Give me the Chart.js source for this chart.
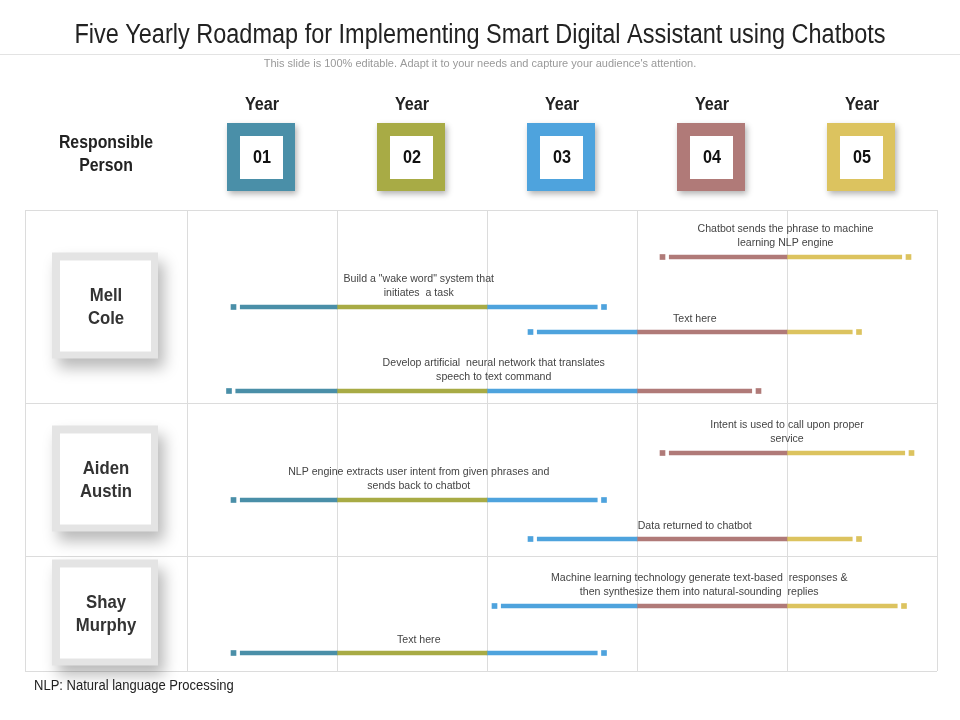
<!DOCTYPE html>
<html><head><meta charset="utf-8">
<script src="https://cdn.jsdelivr.net/npm/chart.js@4.4.0/dist/chart.umd.min.js"></script>
<style>html,body{margin:0;padding:0;background:#fff;overflow:hidden}#wrap{width:960px;height:720px;position:relative}</style>
</head><body><div id="wrap"><canvas id="c"></canvas></div>
<script>
const years = ["01","02","03","04","05"];
const yearColors = ["#4a8fa8","#a8ab45","#4ea3dd","#b07a78","#dcc35f"];
const persons = ["Mell\nCole","Aiden\nAustin","Shay\nMurphy"];
const personRows = [[0,3.86],[3.86,6.92],[6.92,9.22]];
const taskLabels = [
 "Chatbot sends the phrase to machine\nlearning NLP engine",
 "Build a \"wake word\" system that\ninitiates  a task",
 "Text here",
 "Develop artificial  neural network that translates\nspeech to text command",
 "Intent is used to call upon proper\nservice",
 "NLP engine extracts user intent from given phrases and\nsends back to chatbot",
 "Data returned to chatbot",
 "Machine learning technology generate text-based  responses &\nthen synthesize them into natural-sounding  replies",
 "Text here"];
const taskStart = [3.17,0.31,2.29,0.28,3.17,0.31,2.29,2.05,0.31];
const taskEnd   = [4.81,2.78,4.48,3.81,4.83,2.78,4.48,4.78,2.78];
const taskLane  = [0.94,1.94,2.44,3.62,4.86,5.8,6.58,7.92,8.86];

const FONT = "'Liberation Sans',Arial,sans-serif";
const GAP = 0.045;
const datasets = [];
yearColors.forEach((col,k)=>{
  const data=[];
  taskStart.forEach((s,i)=>{
    const a=Math.max(s+GAP,k), b=Math.min(taskEnd[i]-GAP,k+1);
    if(b>a) data.push({x:[a,b],y:taskLane[i]});
  });
  datasets.push({type:'bar',data,backgroundColor:col,barThickness:4,grouped:false});
});
const pts = yearColors.map(()=>[]);
taskStart.forEach((s,i)=>{
  pts[Math.min(4,Math.floor(s))].push({x:s,y:taskLane[i]});
  pts[Math.min(4,Math.floor(taskEnd[i]))].push({x:taskEnd[i],y:taskLane[i]});
});
yearColors.forEach((col,k)=>datasets.push({type:'scatter',data:pts[k],pointStyle:'rect',radius:4,backgroundColor:col,borderWidth:0}));

function nt(ctx,text,x,y,lh,sx){
  text.split("\n").forEach((t,i)=>{ctx.save();ctx.translate(x,y+i*lh);ctx.scale(sx,1);ctx.fillText(t,0,0);ctx.restore();});
}

const deco = {
  id:'deco',
  beforeDatasetsDraw(chart){
    const {ctx,scales:{x,y}}=chart;
    ctx.save();
    ctx.strokeStyle="#dcdcdc";ctx.lineWidth=1;
    [-1.08,0,1,2,3,4,5].forEach(v=>{const px=Math.round(x.getPixelForValue(v))+0.5;ctx.beginPath();ctx.moveTo(px,y.getPixelForValue(0));ctx.lineTo(px,y.getPixelForValue(9.22));ctx.stroke();});
    [0,3.86,6.92,9.22].forEach(v=>{const py=Math.round(y.getPixelForValue(v))+0.5;ctx.beginPath();ctx.moveTo(x.getPixelForValue(-1.08),py);ctx.lineTo(x.getPixelForValue(5),py);ctx.stroke();});
    ctx.fillStyle="#222";ctx.textAlign="center";ctx.textBaseline="middle";
    ctx.font="27px "+FONT;nt(ctx,"Five Yearly Roadmap for Implementing Smart Digital Assistant using Chatbots",480,36,0,0.87);
    ctx.strokeStyle="#e3e3e3";ctx.beginPath();ctx.moveTo(0,54.5);ctx.lineTo(960,54.5);ctx.stroke();
    ctx.fillStyle="#999";ctx.font="11px "+FONT;
    nt(ctx,"This slide is 100% editable. Adapt it to your needs and capture your audience's attention.",480,64,0,1);
    ctx.fillStyle="#222";ctx.font="bold 18px "+FONT;
    nt(ctx,"Responsible\nPerson",106,143,23,0.88);
    years.forEach((t,k)=>{
      const cx=x.getPixelForValue(k+0.5);
      ctx.fillStyle="#222";ctx.font="bold 18px "+FONT;nt(ctx,"Year",cx,105,0,0.9);
      ctx.save();ctx.shadowColor="rgba(0,0,0,0.3)";ctx.shadowBlur=6;ctx.shadowOffsetX=2;ctx.shadowOffsetY=3;
      ctx.fillStyle=yearColors[k];ctx.fillRect(cx-35,123,68,68);ctx.restore();
      ctx.fillStyle="#fff";ctx.fillRect(cx-22,136,43,43);
      ctx.fillStyle="#111";ctx.font="bold 18px "+FONT;nt(ctx,t,cx,158,0,0.9);
    });
    persons.forEach((p,i)=>{
      const cy=(y.getPixelForValue(personRows[i][0])+y.getPixelForValue(personRows[i][1]))/2;
      const cx=106;
      ctx.save();ctx.shadowColor="rgba(0,0,0,0.28)";ctx.shadowBlur=14;ctx.shadowOffsetX=6;ctx.shadowOffsetY=9;
      ctx.fillStyle="#e4e4e4";ctx.fillRect(cx-54,cy-54,106,106);ctx.restore();
      ctx.fillStyle="#fff";ctx.fillRect(cx-46,cy-46,91,91);
      ctx.fillStyle="#333";ctx.font="bold 19px "+FONT;nt(ctx,p,cx,cy-11,23,0.88);
    });
    ctx.fillStyle="#444";ctx.font="11.5px "+FONT;
    taskLabels.forEach((t,i)=>{
      const cx=x.getPixelForValue((taskStart[i]+taskEnd[i])/2);
      const n=t.split("\n").length;
      const py=y.getPixelForValue(taskLane[i]);
      nt(ctx,t,cx,py-(n==2?28:13),14,0.92);
    });
    ctx.fillStyle="#222";ctx.textAlign="left";ctx.font="14px "+FONT;
    nt(ctx,"NLP: Natural language Processing",34,686,0,0.93);
    ctx.restore();
  }
};

new Chart(document.getElementById('c'),{
  data:{datasets},
  options:{
    responsive:true,maintainAspectRatio:false,animation:false,indexAxis:'y',
    layout:{padding:{left:25,right:23,top:210,bottom:49}},
    plugins:{legend:{display:false},tooltip:{enabled:false}},
    scales:{
      x:{type:'linear',min:-1.08,max:5,display:false,offset:false},
      y:{type:'linear',min:0,max:9.22,reverse:true,display:false,offset:false}
    }
  },
  plugins:[deco]
});
</script></body></html>
